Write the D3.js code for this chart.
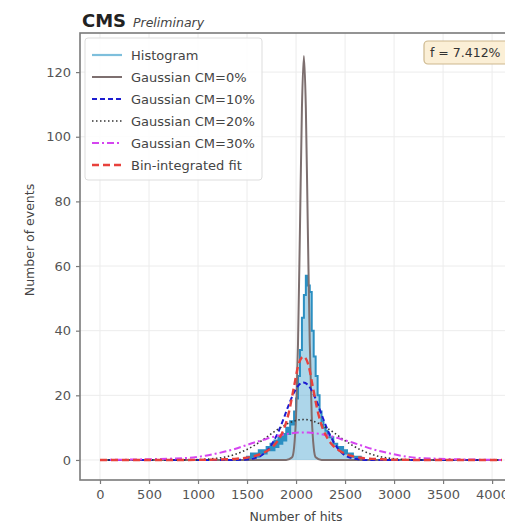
<!DOCTYPE html>
<html>
<head>
<meta charset="utf-8">
<script src="https://cdn.jsdelivr.net/npm/d3@7"></script>
<style>
  body { margin: 0; background: #fff; }
  svg { font-family: "DejaVu Sans", sans-serif; }
</style>
</head>
<body>
<svg id="chart" width="505" height="526"></svg>
<script>
// histogram (bin start, width 20)
var histStart = 1480, binWidth = 20;
var histCounts = [0, 1, 0, 2, 1, 2, 1, 3, 2, 3, 2, 4, 3, 5, 3, 6, 4, 7, 5, 8,
                  6, 10, 8, 12, 11, 15, 19, 26, 34, 44, 51, 57, 54, 52, 40, 32, 26, 20, 15, 12,
                  10, 9, 8, 7, 7, 5, 5, 4, 3, 4, 2, 3, 2, 1, 2, 1, 1, 0, 1, 0];

// narrow gaussian, CM = 0%
var grayX = [0, 1900, 1960, 1980, 2000, 2020, 2040, 2060, 2080, 2100, 2120, 2140, 2160, 2180, 2200, 2260, 4100];
var grayY = [0, 0, 0.85, 3.9, 13.6, 36, 71.8, 108.8, 125, 108.8, 71.8, 36, 13.6, 3.9, 0.85, 0, 0];

// shared x grid for the wider curves
var curveX = [0, 875, 1075, 1175, 1275, 1375, 1475, 1575, 1675, 1725, 1775, 1825, 1875, 1925, 1975, 2025, 2075,
              2125, 2175, 2225, 2275, 2325, 2375, 2425, 2475, 2575, 2675, 2775, 2875, 2975, 3075, 3275, 4100];
var cm10 = [0, 0, 0, 0, 0, 0, 0.1, 0.5, 2.0, 3.6, 6.0, 9.1, 12.9, 17.0, 20.6, 23.1, 24,
            23.1, 20.6, 17.0, 12.9, 9.1, 6.0, 3.6, 2.0, 0.5, 0.1, 0, 0, 0, 0, 0, 0];
var cm20 = [0, 0.04, 0.21, 0.46, 0.9, 1.7, 2.9, 4.5, 6.5, 7.6, 8.7, 9.7, 10.6, 11.4, 12.0, 12.4, 12.5,
            12.4, 12.0, 11.4, 10.6, 9.7, 8.7, 7.6, 6.5, 4.5, 2.9, 1.7, 0.9, 0.46, 0.21, 0.04, 0];
var cm30 = [0, 0.6, 1.3, 1.9, 2.6, 3.4, 4.4, 5.4, 6.3, 6.78, 7.2, 7.57, 7.9, 8.15, 8.35, 8.46, 8.5,
            8.46, 8.35, 8.15, 7.9, 7.57, 7.2, 6.78, 6.3, 5.4, 4.4, 3.4, 2.6, 1.9, 1.3, 0.6, 0];
var fitY = [0, 0, 0.05, 0.1, 0.2, 0.35, 0.6, 1.2, 2.3, 3.2, 4.5, 6.5, 9.5, 14.5, 22, 29.5, 32,
            29.5, 22, 14.5, 9.5, 6.5, 4.5, 3.2, 2.3, 1.2, 0.6, 0.35, 0.2, 0.1, 0.05, 0, 0];

var xTicks = [0, 500, 1000, 1500, 2000, 2500, 3000, 3500, 4000];
var yTicks = [0, 20, 40, 60, 80, 100, 120];

var legendLabels = ["Histogram", "Gaussian CM=0%", "Gaussian CM=10%", "Gaussian CM=20%", "Gaussian CM=30%", "Bin-integrated fit"];

var svg = d3.select("#chart");
var pL = 80, pR = 522, pT = 33, pB = 480;

var x = d3.scaleLinear().domain([-204, 4305]).range([pL, pR]);
var y = d3.scaleLinear().domain([-6.2, 132.1]).range([pB, pT]);

svg.append("defs").append("clipPath").attr("id", "plotclip")
  .append("rect").attr("x", pL).attr("y", pT).attr("width", pR - pL).attr("height", pB - pT);

// grid
var grid = svg.append("g");
grid.selectAll(".gx").data(xTicks).enter().append("line")
  .attr("x1", d => x(d)).attr("x2", d => x(d)).attr("y1", pT).attr("y2", pB)
  .attr("stroke", "#ececec").attr("stroke-width", 1);
grid.selectAll(".gy").data(yTicks).enter().append("line")
  .attr("x1", pL).attr("x2", pR).attr("y1", d => y(d)).attr("y2", d => y(d))
  .attr("stroke", "#ececec").attr("stroke-width", 1);

var plot = svg.append("g").attr("clip-path", "url(#plotclip)");

// histogram as steps
var histPts = histCounts.map((c, i) => [histStart + i * binWidth, c]);
histPts.push([histStart + histCounts.length * binWidth, histCounts[histCounts.length - 1]]);

plot.append("path")
  .datum(histPts)
  .attr("d", d3.area().x(d => x(d[0])).y0(y(0)).y1(d => y(d[1])).curve(d3.curveStepAfter))
  .attr("fill", "#4aa3d0").attr("fill-opacity", 0.45);
plot.append("path")
  .datum(histPts)
  .attr("d", d3.line().x(d => x(d[0])).y(d => y(d[1])).curve(d3.curveStepAfter))
  .attr("fill", "none").attr("stroke", "#2b8fc2").attr("stroke-width", 2);

var line = d3.line().x(d => x(d[0])).y(d => y(d[1])).curve(d3.curveMonotoneX);

function zip(xs, ys) { return xs.map((v, i) => [v, ys[i]]); }

var styles = [
  {stroke: "#7ebfdc", width: 2.2, dash: null},
  {stroke: "#7d6f6f", width: 2, dash: null},
  {stroke: "#1c1cd0", width: 2, dash: "5,3"},
  {stroke: "#333333", width: 1.6, dash: "1.5,2.5"},
  {stroke: "#d545f0", width: 2, dash: "7,3,2,3"},
  {stroke: "#e8413c", width: 2.4, dash: "7,4"}
];

var curves = [
  [zip(grayX, grayY), styles[1]],
  [zip(curveX, cm10), styles[2]],
  [zip(curveX, cm20), styles[3]],
  [zip(curveX, cm30), styles[4]],
  [zip(curveX, fitY), styles[5]]
];

curves.forEach(function(c) {
  plot.append("path").datum(c[0]).attr("d", line)
    .attr("fill", "none").attr("stroke", c[1].stroke)
    .attr("stroke-width", c[1].width)
    .attr("stroke-dasharray", c[1].dash);
});

// frame
svg.append("rect").attr("x", pL).attr("y", pT).attr("width", pR - pL).attr("height", pB - pT)
  .attr("fill", "none").attr("stroke", "#7a7a7a").attr("stroke-width", 1.6);

// axes
var xAxis = svg.append("g").attr("transform", "translate(0," + pB + ")")
  .call(d3.axisBottom(x).tickValues(xTicks).tickSize(4).tickPadding(6).tickFormat(d3.format("d")));
var yAxis = svg.append("g").attr("transform", "translate(" + pL + ",0)")
  .call(d3.axisLeft(y).tickValues(yTicks).tickSize(4).tickPadding(5).tickFormat(d3.format("d")));
[xAxis, yAxis].forEach(function(a) {
  a.select(".domain").remove();
  a.selectAll(".tick line").attr("stroke", "#7a7a7a").attr("stroke-width", 1.2);
  a.selectAll(".tick text").attr("fill", "#555").style("font-size", "13px")
    .style("font-family", "DejaVu Sans, sans-serif");
});

svg.append("text").attr("x", 296).attr("y", 521).attr("text-anchor", "middle")
  .attr("fill", "#444").style("font-size", "12.5px").text("Number of hits");
svg.append("text").attr("transform", "translate(34,240) rotate(-90)").attr("text-anchor", "middle")
  .attr("fill", "#444").style("font-size", "12.5px").text("Number of events");

// title
svg.append("text").attr("x", 82).attr("y", 27).attr("fill", "#222")
  .style("font-size", "18px").style("font-weight", "bold").text("CMS");
svg.append("text").attr("x", 133).attr("y", 27).attr("fill", "#444")
  .style("font-size", "12.5px").style("font-style", "italic").text("Preliminary");

// legend
var lg = svg.append("g");
lg.append("rect").attr("x", 85).attr("y", 38).attr("width", 177).attr("height", 142).attr("rx", 3)
  .attr("fill", "#fff").attr("fill-opacity", 0.85).attr("stroke", "#dddddd");
legendLabels.forEach(function(name, i) {
  var yy = 55 + i * 22;
  var s = styles[i];
  lg.append("line").attr("x1", 92).attr("x2", 122).attr("y1", yy).attr("y2", yy)
    .attr("stroke", s.stroke).attr("stroke-width", s.width).attr("stroke-dasharray", s.dash);
  lg.append("text").attr("x", 131).attr("y", yy + 4.5).attr("fill", "#444")
    .style("font-size", "13px").text(name);
});

// annotation box
var ann = svg.append("g");
ann.append("rect").attr("x", 424).attr("y", 41).attr("width", 100).attr("height", 23).attr("rx", 4)
  .attr("fill", "#fbefd6").attr("stroke", "#cdb88e").attr("stroke-width", 1.2);
ann.append("text").attr("x", 430).attr("y", 57).attr("fill", "#333")
  .style("font-size", "12.5px").text("f = 7.412%");
</script>
</body>
</html>
